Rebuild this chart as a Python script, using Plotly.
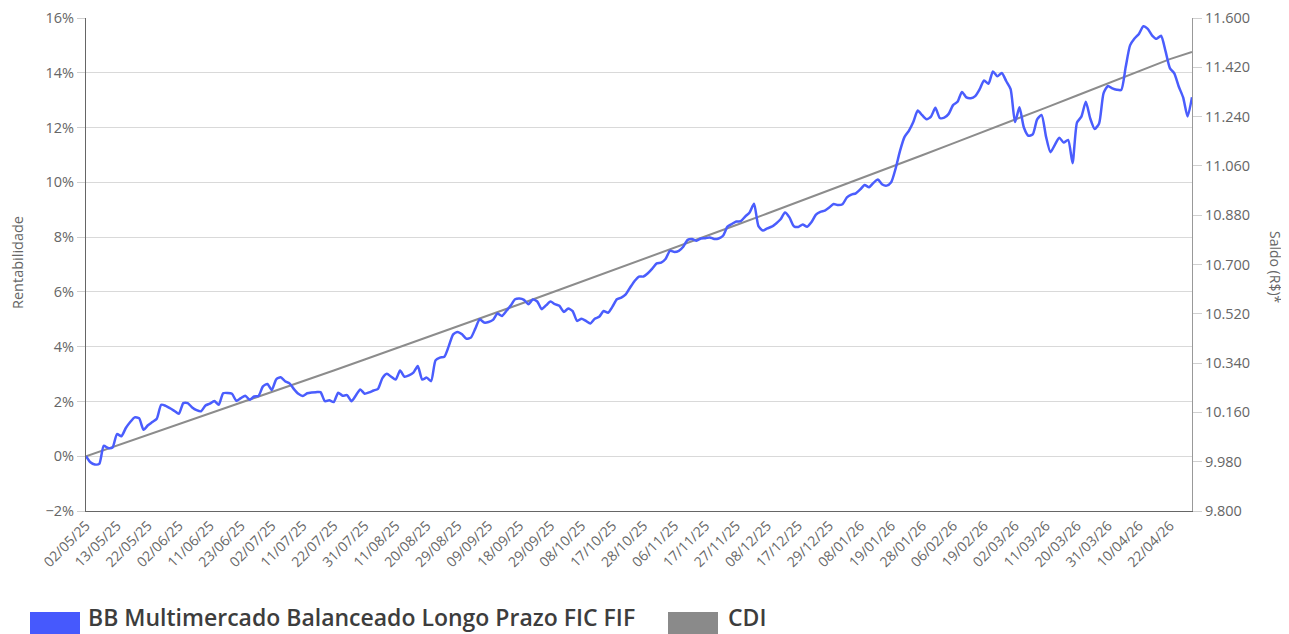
import pandas as pd
import plotly.graph_objects as go

# ---- data ----
HOLIDAYS = ["2025-06-19", "2025-11-20", "2025-12-25", "2026-01-01",
            "2026-02-16", "2026-02-17", "2026-04-03", "2026-04-21"]
START_DATE = "2025-05-02"
END_DATE = "2026-04-29"

FUND_NAME = "BB Multimercado Balanceado Longo Prazo FIC FIF"
CDI_NAME = "CDI"
LEFT_TITLE = "Rentabilidade"
RIGHT_TITLE = "Saldo (R$)*"

# fund cumulative return (%), one value per business day
fund = [
    0.00, -0.22, -0.30, -0.28, 0.38, 0.30, 0.32, 0.81, 0.73, 1.03,
    1.25, 1.42, 1.39, 0.97, 1.13, 1.25, 1.37, 1.88, 1.84, 1.75,
    1.65, 1.55, 1.94, 1.94, 1.78, 1.68, 1.64, 1.85, 1.92, 2.02,
    1.88, 2.30, 2.31, 2.28, 2.02, 2.12, 2.21, 2.06, 2.18, 2.20,
    2.55, 2.64, 2.42, 2.81, 2.88, 2.74, 2.66, 2.45, 2.28, 2.20,
    2.30, 2.33, 2.34, 2.34, 2.01, 2.04, 1.98, 2.32, 2.21, 2.23,
    2.01, 2.22, 2.44, 2.28, 2.33, 2.40, 2.46, 2.85, 3.01, 2.90,
    2.80, 3.13, 2.90, 2.95, 3.05, 3.29, 2.80, 2.87, 2.74, 3.50,
    3.60, 3.63, 4.02, 4.45, 4.54, 4.45, 4.29, 4.33, 4.66, 5.00,
    4.88, 4.90, 4.98, 5.21, 5.12, 5.30, 5.50, 5.73, 5.76, 5.71,
    5.55, 5.72, 5.65, 5.37, 5.51, 5.65, 5.55, 5.49, 5.27, 5.39,
    5.30, 4.94, 5.02, 4.94, 4.85, 5.02, 5.09, 5.30, 5.24, 5.46,
    5.73, 5.79, 5.91, 6.16, 6.40, 6.56, 6.56, 6.68, 6.85, 7.04,
    7.07, 7.20, 7.50, 7.46, 7.50, 7.65, 7.90, 7.93, 7.87, 7.95,
    7.96, 7.99, 7.93, 7.95, 8.05, 8.38, 8.48, 8.57, 8.58, 8.75,
    8.90, 9.22, 8.40, 8.24, 8.32, 8.38, 8.50, 8.65, 8.90, 8.72,
    8.40, 8.37, 8.46, 8.38, 8.55, 8.82, 8.92, 8.97, 9.08, 9.21,
    9.17, 9.20, 9.45, 9.55, 9.60, 9.74, 9.90, 9.82, 9.98, 10.10,
    9.92, 9.88, 10.00, 10.50, 11.15, 11.65, 11.88, 12.20, 12.62, 12.45,
    12.30, 12.40, 12.72, 12.35, 12.36, 12.50, 12.82, 12.94, 13.30, 13.10,
    13.07, 13.15, 13.40, 13.72, 13.60, 14.05, 13.87, 13.99, 13.70, 13.40,
    12.20, 12.74, 12.00, 11.70, 11.75, 12.30, 12.46, 11.67, 11.10, 11.37,
    11.63, 11.45, 11.55, 10.70, 12.18, 12.40, 12.94, 12.33, 11.95, 12.15,
    13.25, 13.52, 13.43, 13.38, 13.37, 14.20, 15.00, 15.25, 15.42, 15.70,
    15.60, 15.36, 15.24, 15.35, 14.80, 14.17, 13.98, 13.50, 13.10, 12.40,
    13.11,
]

# CDI cumulative return (%), read at every 7th business day + last day
cdi = [
    0.00, 0.39, 0.78, 1.16, 1.55, 1.95, 2.34, 2.74, 3.13, 3.53,
    3.93, 4.33, 4.74, 5.14, 5.55, 5.96, 6.37, 6.78, 7.19, 7.61,
    8.02, 8.44, 8.86, 9.28, 9.71, 10.13, 10.56, 10.99, 11.42, 11.85,
    12.29, 12.73, 13.17, 13.61, 14.05, 14.50, 14.76,
]

LEFT_RANGE = [-2, 16]
RIGHT_RANGE = [9800, 11600]

# ---- categories ----
days = pd.bdate_range(START_DATE, END_DATE, freq="C", holidays=HOLIDAYS)
labels = [d.strftime("%d/%m/%y") for d in days]
if len(labels) != len(fund):
    raise SystemExit(f"len mismatch {len(labels)} vs {len(fund)}")

tick_labels = labels[::7]
cdi_x = labels[::7] + [labels[-1]]

BLUE = "#4a5dfd"
GRAY = "#8c8c8c"
FONT = "Open Sans"
TXT = "#666666"

fig = go.Figure()
fig.add_trace(go.Scatter(x=cdi_x, y=cdi, mode="lines", name=CDI_NAME,
                         line=dict(color=GRAY, width=2), showlegend=False))
fig.add_trace(go.Scatter(x=labels, y=fund, mode="lines", name=FUND_NAME,
                         line=dict(color=BLUE, width=2.5, shape="spline", smoothing=0.6),
                         showlegend=False))
# right axis anchor trace (invisible)
fig.add_trace(go.Scatter(x=[labels[0]], y=[RIGHT_RANGE[0]], yaxis="y2", mode="lines",
                         line=dict(width=0), showlegend=False, hoverinfo="skip"))

# page body has an 8px margin, so the figure is sized/placed to compensate
fig.update_layout(
    width=1281, height=626,
    margin=dict(l=78, r=97, t=10, b=123, autoexpand=False),
    paper_bgcolor="white", plot_bgcolor="white",
    separators=",.",
    font=dict(family=FONT, color=TXT, size=14),
    xaxis=dict(type="category", categoryorder="array", categoryarray=labels,
               tickmode="array", tickvals=tick_labels, ticktext=tick_labels,
               tickangle=-45, tickfont=dict(size=14, color=TXT),
               range=[0, len(labels) - 1], showline=True, linecolor="#666666",
               linewidth=1, showgrid=False, zeroline=False, ticks="", automargin=False),
    yaxis=dict(range=LEFT_RANGE, dtick=2, tick0=0, ticksuffix="%",
               showgrid=True, gridcolor="#d9d9d9", gridwidth=1, zeroline=False,
               showline=True, linecolor="#666666", linewidth=1,
               ticks="outside", ticklen=8, tickcolor="#d0d0d0",
               tickfont=dict(size=14.5, color=TXT), automargin=False),
    yaxis2=dict(overlaying="y", side="right", range=RIGHT_RANGE, dtick=180, tick0=9800,
                tickformat=",d", showgrid=False, zeroline=False,
                showline=True, linecolor="#999999", linewidth=1,
                ticks="outside", ticklen=9, tickcolor="#d0d0d0",
                tickfont=dict(size=14.5, color=TXT), automargin=False),
    showlegend=False,
)

# helpers: page pixel -> paper coordinates (plot area spans x 86..1192, y 18..511 on page)
def px_x(px):
    return (px - 86) / 1106.0

def px_y(py):
    return (511 - py) / 493.0

# axis titles
fig.add_annotation(xref="paper", yref="paper", x=px_x(17), y=px_y(263),
                   xanchor="center", yanchor="middle", showarrow=False, textangle=-90,
                   text=LEFT_TITLE, font=dict(size=14.5, color=TXT, family=FONT))
fig.add_annotation(xref="paper", yref="paper", x=px_x(1276), y=px_y(267),
                   xanchor="center", yanchor="middle", showarrow=False, textangle=90,
                   text=RIGHT_TITLE, font=dict(size=14, color=TXT, family=FONT))

# custom legend (boxes + text) below the chart
fig.add_shape(type="rect", xref="paper", yref="paper",
              x0=px_x(30), x1=px_x(80), y0=px_y(636), y1=px_y(612),
              fillcolor="#4659fd", line=dict(width=0))
fig.add_shape(type="rect", xref="paper", yref="paper",
              x0=px_x(668), x1=px_x(718), y0=px_y(636), y1=px_y(612),
              fillcolor="#8a8a8a", line=dict(width=0))
fig.add_annotation(xref="paper", yref="paper", x=px_x(86), y=px_y(617),
                   xanchor="left", yanchor="middle", showarrow=False,
                   text=FUND_NAME, font=dict(size=23, color="#3d3d3d", family=FONT, weight=600))
fig.add_annotation(xref="paper", yref="paper", x=px_x(726), y=px_y(617),
                   xanchor="left", yanchor="middle", showarrow=False,
                   text=CDI_NAME, font=dict(size=23, color="#3d3d3d", family=FONT, weight=600))

fig.write_html("out.html")
